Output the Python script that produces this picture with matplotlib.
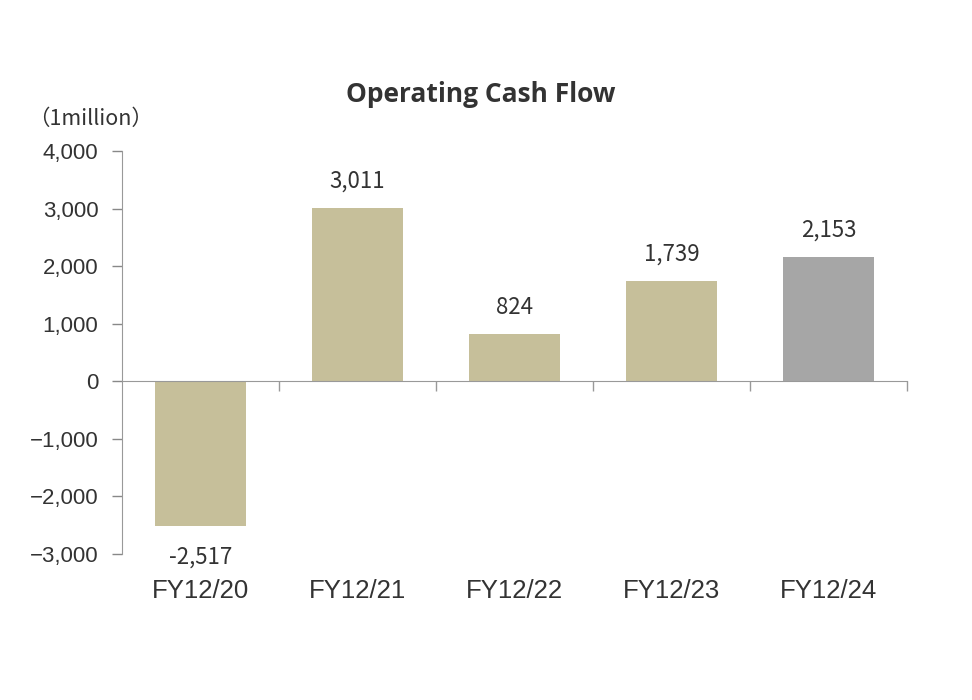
import matplotlib.pyplot as plt
from matplotlib.ticker import FuncFormatter, FixedLocator

plt.rcParams['font.family'] = ['Noto Sans CJK JP', 'DejaVu Sans']

# データ
categories = ["FY12/20", "FY12/21", "FY12/22", "FY12/23", "FY12/24"]
values = [-2517, 3011, 824, 1739, 2153]
bar_colors = ["#c6bf9a", "#c6bf9a", "#c6bf9a", "#c6bf9a", "#a6a6a6"]

fig = plt.figure(figsize=(9.72, 7.0), dpi=100)
ax = fig.add_axes([0.1255, 0.2086, 0.8075, 0.5757])

x = list(range(len(categories)))
ax.bar(x, values, width=0.58, color=bar_colors, zorder=2)

ax.set_xlim(-0.5, len(categories) - 0.5)
ax.set_ylim(-3000, 4000)
ax.set_yticks(range(-3000, 4001, 1000))
ax.yaxis.set_major_formatter(FuncFormatter(lambda v, p: f"{int(v):,}".replace("-", "\u2212")))
ax.tick_params(axis='y', length=7, width=1, color="#888888", labelsize=16,
               labelcolor="#333333", pad=10)
for lbl in ax.get_yticklabels():
    lbl.set_family(['Liberation Sans', 'DejaVu Sans'])

# ラベル
for xi, v in zip(x, values):
    if v >= 0:
        ax.annotate(f"{v:,}", (xi, v), xytext=(0, 11), textcoords='offset points',
                    ha='center', va='bottom', fontsize=16, color="#333333")
    else:
        ax.annotate(f"{v:,}", (xi, v), xytext=(0, -14), textcoords='offset points',
                    ha='center', va='top', fontsize=16, color="#333333")

# x軸はゼロの位置
ax.spines['bottom'].set_position(('data', 0))
ax.spines['bottom'].set_color("#999999")
ax.spines['left'].set_color("#999999")
ax.spines['top'].set_visible(False)
ax.spines['right'].set_visible(False)
ax.xaxis.set_major_locator(FixedLocator([i + 0.5 for i in range(len(categories))]))
ax.xaxis.set_major_formatter(FuncFormatter(lambda v, p: ""))
ax.tick_params(axis='x', length=7, width=1, color="#999999", direction='out')

for xi, c in zip(x, categories):
    ax.text(xi, -3650, c, ha='center', va='center', fontsize=18.5, color="#333333",
            family=['Liberation Sans', 'DejaVu Sans'])

fig.text(481 / 972, 1 - 94 / 700, "Operating Cash Flow", ha='center', va='center',
         fontsize=19, fontweight='bold', color="#333333", family=['Open Sans', 'DejaVu Sans'])
fig.text(28 / 972, 1 - 119 / 700, "（1million）", ha='left', va='center',
         fontsize=15.5, color="#333333")

plt.savefig("out.png", dpi=100)
